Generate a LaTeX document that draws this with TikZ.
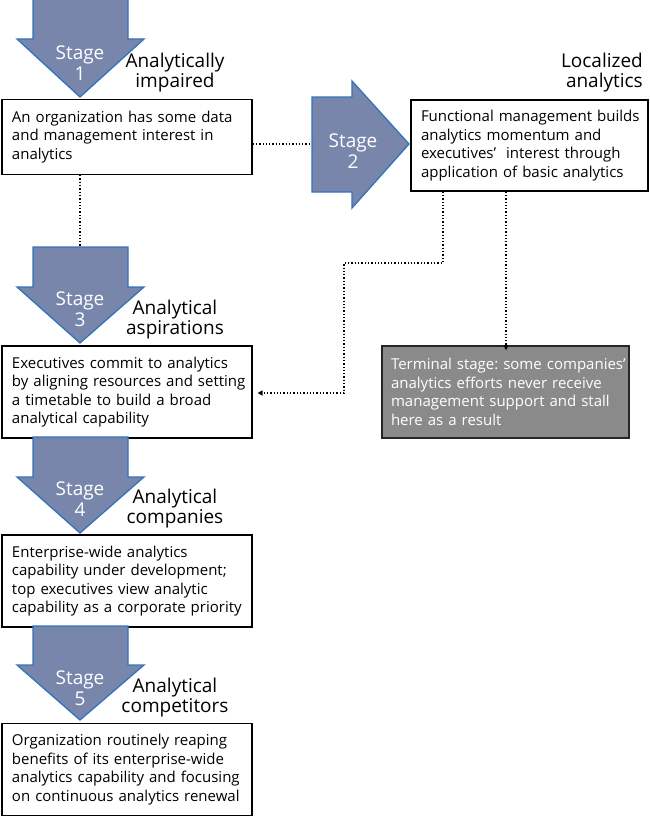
\documentclass[tikz,border=0pt]{standalone}
\usepackage{fontspec}
\setmainfont{Open Sans}
\frenchspacing
\usetikzlibrary{arrows.meta,calc}
\definecolor{arrfill}{RGB}{121,134,172}
\definecolor{arrline}{RGB}{52,115,186}
\definecolor{termfill}{RGB}{138,138,138}
\tikzset{
  stagearrow/.style={fill=arrfill,draw=arrline,line width=1.3pt,line join=miter},
  stagetxt/.style={text=white,font=\fontsize{19}{21}\selectfont,align=center,inner sep=0pt},
  infobox/.style={draw=black,line width=1.2pt,fill=white,inner sep=0pt,
     font=\fontsize{15}{18.5}\selectfont,align=left},
  termbox/.style={infobox,fill=termfill,text=white,draw=black!85,line width=1.5pt},
  stagelabel/.style={font=\fontsize{19}{20}\selectfont,align=center,inner sep=0pt},
  dotline/.style={dotted,line width=1.3pt},
  dotarrow/.style={dotline,-{Triangle[length=5pt,width=5pt]}}
}
\begin{document}
\begin{tikzpicture}[x=1pt,y=-1pt]
\useasboundingbox (0,0) rectangle (650,816);
% boxes
\node[infobox,minimum width=250pt,minimum height=75pt,text width=230pt] (b1) at (127,137)
  {\mbox{An organization has some data}\\\mbox{and management interest in}\\\mbox{analytics}};
\node[infobox,minimum width=237pt,minimum height=91pt,text width=217pt] (b2) at (529.5,145.5)
  {\mbox{Functional management builds}\\\mbox{analytics momentum and}\\\mbox{executives’\ \ interest through}\\\mbox{application of basic analytics}};
\node[infobox,minimum width=250pt,minimum height=92pt,text width=230pt] (b3) at (127,392)
  {\mbox{Executives commit to analytics}\\\mbox{by aligning resources and setting}\\\mbox{a timetable to build a broad}\\\mbox{analytical capability}};
\node[termbox,minimum width=247pt,minimum height=92pt,text width=229pt] (bt) at (505.5,392)
  {\mbox{Terminal stage: some companies’}\\\mbox{analytics efforts never receive}\\\mbox{management support and stall}\\\mbox{here as a result}};
\node[infobox,minimum width=250pt,minimum height=92pt,text width=230pt] (b4) at (127,581)
  {\mbox{Enterprise-wide analytics}\\\mbox{capability under development;}\\\mbox{top executives view analytic}\\\mbox{capability as a corporate priority}};
\node[infobox,minimum width=250pt,minimum height=92pt,text width=230pt] (b5) at (127,769.5)
  {\mbox{Organization routinely reaping}\\\mbox{benefits of its enterprise-wide}\\\mbox{analytics capability and focusing}\\\mbox{on continuous analytics renewal}};
% stage arrows
\draw[stagearrow] (33,-3) -- (128,-3) -- (128,39) -- (144,39) -- (80,97) -- (17,39) -- (33,39) -- cycle;
\draw[stagearrow] (312,97) -- (352,97) -- (352,81) -- (409,144) -- (352,208) -- (352,192) -- (312,192) -- cycle;
\draw[stagearrow] (33,247) -- (128,247) -- (128,287) -- (144,287) -- (80,343) -- (17,287) -- (33,287) -- cycle;
\draw[stagearrow] (33,437) -- (128,437) -- (128,477) -- (144,477) -- (80,533) -- (17,477) -- (33,477) -- cycle;
\draw[stagearrow] (33,626) -- (128,626) -- (128,665) -- (144,665) -- (80,720) -- (17,665) -- (33,665) -- cycle;
\coordinate (s2tail) at (312,144);
\coordinate (s3top) at (80,247);
\node[stagetxt] (s1) at (80,63) {Stage\\1};
\node[stagetxt] (s2) at (353,151) {Stage\\2};
\node[stagetxt] (s3) at (80,309) {Stage\\3};
\node[stagetxt] (s4) at (80,499) {Stage\\4};
\node[stagetxt] (s5) at (80,688) {Stage\\5};
% labels
\node[stagelabel] (l1) at (175,73) {Analytically\\impaired};
\node[stagelabel,align=right,anchor=east] (l2) at (643,73) {Localized\\analytics};
\node[stagelabel] (l3) at (175,320) {Analytical\\aspirations};
\node[stagelabel] (l4) at (175,509) {Analytical\\companies};
\node[stagelabel] (l5) at (175,698) {Analytical\\competitors};
% connectors
\draw[dotline] (b1.east |- s2tail) -- (s2tail);
\draw[dotline] (b1.south -| s3top) -- (s3top);
\coordinate (c1) at (443,263);
\coordinate (c2) at (344,263);
\coordinate (c3) at (344,393);
\draw[dotarrow] (b2.south -| c1) -- (c1) -- (c2) -- (c3) -- ([xshift=5pt]b3.east |- c3);
\coordinate (c4) at (506,0);
\draw[dotarrow] (b2.south -| c4) -- ([yshift=-5pt]bt.north -| c4);
\end{tikzpicture}
\end{document}
